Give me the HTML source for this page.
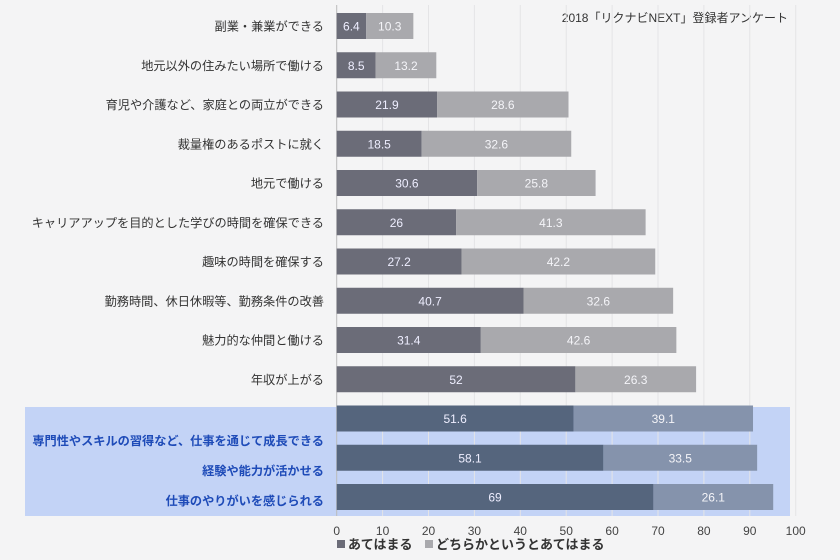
<!DOCTYPE html>
<html><head><meta charset="utf-8"><style>
body{margin:0;background:#f4f4f5;}
svg{display:block;font-family:"Liberation Sans","Noto Sans CJK JP",sans-serif;}
</style></head><body>
<svg id="c" width="840" height="560">
<rect width="840" height="560" fill="#f4f4f5"/>
<rect x="25" y="407" width="765" height="109" fill="#c3d3f6"/>
<text x="788" y="22" font-size="12" text-anchor="end" fill="#333">2018「リクナビNEXT」登録者アンケート</text>
</svg>
<script>
const categories=["副業・兼業ができる","地元以外の住みたい場所で働ける","育児や介護など、家庭との両立ができる","裁量権のあるポストに就く","地元で働ける","キャリアアップを目的とした学びの時間を確保できる","趣味の時間を確保する","勤務時間、休日休暇等、勤務条件の改善","魅力的な仲間と働ける","年収が上がる","","",""];
const applies=[6.4,8.5,21.9,18.5,30.6,26,27.2,40.7,31.4,52,51.6,58.1,69];
const somewhat=[10.3,13.2,28.6,32.6,25.8,41.3,42.2,32.6,42.6,26.3,39.1,33.5,26.1];
const ticks=[0,10,20,30,40,50,60,70,80,90,100];
const highlightLabels=["専門性やスキルの習得など、仕事を通じて成長できる","経験や能力が活かせる","仕事のやりがいを感じられる"];
const NS="http://www.w3.org/2000/svg";
const svg=document.getElementById('c');
const x=v=>336.7+v*4.59;
const rowY=i=>13+i*39.25;
const H=26;
function mk(t,a){const e=document.createElementNS(NS,t);for(const k in a)e.setAttribute(k,a[k]);svg.appendChild(e);return e;}
ticks.forEach(t=>{
  const g=mk('line',{x1:x(t),x2:x(t),y1:5,y2:516,stroke:t===0?'#bbb':'#e4e4e6','stroke-width':1});
  
  
  const l=mk('text',{x:x(t),y:535,'font-size':12,'text-anchor':'middle',fill:'#444'});
  l.textContent=t;
  
  
});
categories.forEach((c,i)=>{
  const y=rowY(i);const hl=i>=10;
  const r1=mk('rect',{x:x(0),y:y,width:x(applies[i])-x(0),height:H,fill:hl?'#55657d':'#6b6c78'});
  
  
  const r2=mk('rect',{x:x(applies[i]),y:y,width:x(applies[i]+somewhat[i])-x(applies[i]),height:H,fill:hl?'#8593ac':'#a9a9ad'});
  
  
  const t1=mk('text',{x:(x(0)+x(applies[i]))/2,y:y+17.5,'font-size':12,'text-anchor':'middle',fill:'#eef'});
  t1.textContent=applies[i];
  
  
  const t2=mk('text',{x:(x(applies[i])+x(applies[i]+somewhat[i]))/2,y:y+17.5,'font-size':12,'text-anchor':'middle',fill:'#f4f4f8'});
  t2.textContent=somewhat[i];
  
  
  if(c){const l=mk('text',{x:324,y:y+17.5,'font-size':12.2,'text-anchor':'end',fill:'#333'});
  l.textContent=c;
  
  }
});
highlightLabels.forEach((c,i)=>{
  const l=mk('text',{x:324,y:445+i*30,'font-size':12.2,'text-anchor':'end',fill:'#1e4bb8','font-weight':'bold'});
  l.textContent=c;
  
  
});
const lg=[['あてはまる','#6b6c78',337],['どちらかというとあてはまる','#a9a9ad',425]];
lg.forEach(([n,col,lx])=>{
  const r=mk('rect',{x:lx,y:540,width:8,height:8,fill:col});
  
  
  const t=mk('text',{x:lx+11,y:549,'font-size':13,'font-weight':'bold',fill:'#333'});
  t.textContent=n;
  
  
});
</script>
</body></html>
